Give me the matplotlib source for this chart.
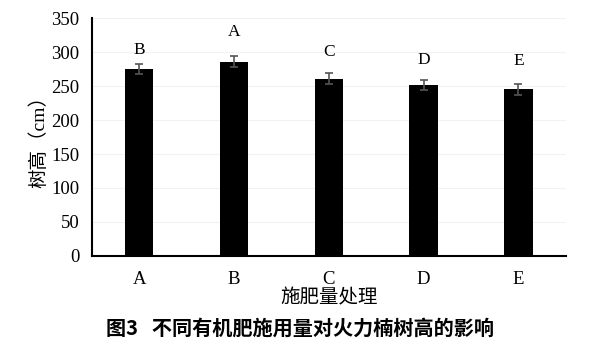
import numpy as np
import matplotlib.pyplot as plt

# 数据
treatments = ['A', 'B', 'C', 'D', 'E']
height = [275, 286, 261, 252, 245]
err = [7.5, 8, 7.5, 7.5, 8.5]
sig = ['B', 'A', 'C', 'D', 'E']
sig_y = [291, 318, 288, 276, 275]

serif = ['Liberation Serif', 'Noto Sans CJK SC']
cjk = ['Noto Sans CJK SC', 'DejaVu Sans']

fig = plt.figure(figsize=(6, 3.55), dpi=100)
ax = fig.add_axes([0.153, 0.279, 0.79, 0.67])

x = np.arange(len(treatments))
ax.bar(x, height, width=0.3, color='black', zorder=2)
ax.errorbar(x, height, yerr=err, fmt='none', ecolor='#555555',
            elinewidth=1.2, capsize=3, capthick=1.2, zorder=3)

for xi, s, yy in zip(x, sig, sig_y):
    ax.text(xi, yy, s, ha='center', va='bottom', fontsize=12.5, family=serif)

ax.set_xlim(-0.5, 4.5)
ax.set_ylim(0, 350)
ax.set_yticks(np.arange(0, 351, 50))
ax.set_xticks(x)
ax.set_xticklabels(treatments)
for lab in ax.get_xticklabels() + ax.get_yticklabels():
    lab.set_fontfamily(serif)
    lab.set_fontsize(13.5)

ax.grid(axis='y', color='#f2f2f2', linewidth=0.8, zorder=0)
for side in ['top', 'right']:
    ax.spines[side].set_visible(False)
ax.spines['left'].set_linewidth(1.5)
ax.spines['bottom'].set_linewidth(1.5)
ax.tick_params(axis='x', length=0, pad=11)
ax.tick_params(axis='y', length=0, pad=9)

ax.set_ylabel('树高（cm）', fontsize=14, family=serif, labelpad=2)
ax.set_xlabel('施肥量处理', fontsize=14, family=serif, labelpad=1)

fig.text(0.5, 0.075, '图3   不同有机肥施用量对火力楠树高的影响',
         ha='center', va='center', fontsize=14.5, family=cjk,
         fontweight='bold')

fig.savefig('out.png', dpi=100)
